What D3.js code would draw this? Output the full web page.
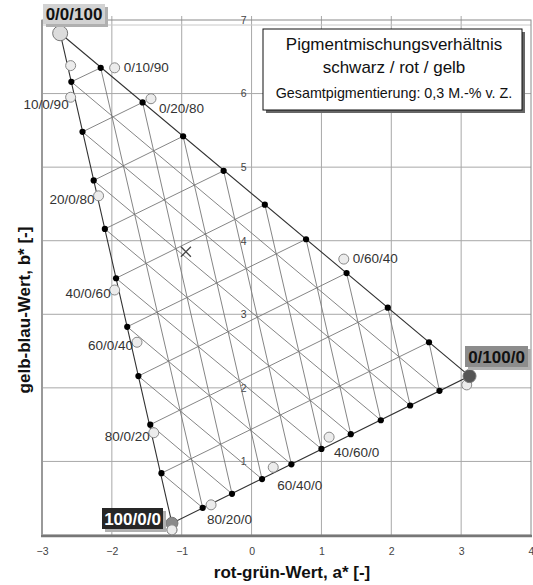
<!DOCTYPE html>
<html>
<head>
<meta charset="utf-8">
<script src="https://cdn.jsdelivr.net/npm/d3@7"></script>
<style>
  html, body { margin: 0; padding: 0; background: #fff; }
  svg { display: block; font-family: "Liberation Sans", Arial, sans-serif; }
</style>
</head>
<body>
<svg id="chart" width="533" height="585"></svg>
<script>
// Axis ranges and ticks
const xDomain = [-3, 4];
const yDomain = [0, 7];
const xTicks = [-3, -2, -1, 0, 1, 2, 3, 4];
const yTicks = [1, 2, 3, 4, 5, 6, 7];

// Pure pigment corners (a*, b*): schwarz / rot / gelb
const cornerNames = ["100/0/0", "0/100/0", "0/0/100"];
const cornerA = [-1.14, 3.12, -2.74];
const cornerB = [0.16, 2.16, 6.82];

// Calculated mixtures on the triangle edges, 10 % steps (index 1..9)
// top edge: 0/r/(100-r)
const topA = [-2.16, -1.56, -0.98, -0.40, 0.19, 0.78, 1.36, 1.95, 2.54];
const topB = [6.35, 5.88, 5.42, 4.95, 4.49, 4.02, 3.56, 3.09, 2.62];
// left edge: s/0/(100-s)
const leftA = [-2.58, -2.42, -2.26, -2.10, -1.94, -1.78, -1.62, -1.45, -1.29];
const leftB = [6.16, 5.48, 4.82, 4.16, 3.49, 2.83, 2.16, 1.50, 0.84];
// bottom edge: (100-r)/r/0
const botA = [-0.70, -0.28, 0.15, 0.57, 1.00, 1.42, 1.85, 2.27, 2.69];
const botB = [0.37, 0.56, 0.76, 0.96, 1.17, 1.37, 1.56, 1.76, 1.96];

// Measured mixtures
const measNames = ["", "0/10/90", "10/0/90", "0/20/80", "20/0/80", "40/0/60", "60/0/40",
                   "80/0/20", "100/0/0", "80/20/0", "60/40/0", "40/60/0", "0/60/40", "0/100/0"];
const measA = [-2.59, -1.96, -2.59, -1.44, -2.19, -1.96, -1.64, -1.40, -1.14, -0.58, 0.31, 1.11, 1.32, 3.08];
const measB = [6.38, 6.35, 5.95, 5.93, 4.61, 3.33, 2.62, 1.39, 0.07, 0.41, 0.92, 1.33, 3.75, 2.04];
// label side for each measured point
const measLabelPos = ["none", "right", "leftlow", "rightlow", "left", "left", "left",
                      "left", "none", "below", "belowfar", "belowright", "right", "none"];

// Single marker
const crossA = [-0.94];
const crossB = [3.85];

const legendLines = ["Pigmentmischungsverhältnis", "schwarz / rot / gelb", "Gesamtpigmentierung: 0,3 M.-% v. Z."];

const svg = d3.select("#chart");
const x = d3.scaleLinear().domain(xDomain).range([42, 531]);
const y = d3.scaleLinear().domain(yDomain).range([535, 20]);

// grid lines
const grid = svg.append("g");
grid.selectAll("line.v").data(xTicks.slice(1, -1)).join("line")
  .attr("x1", d => x(d)).attr("x2", d => x(d))
  .attr("y1", y(0)).attr("y2", y(7) - 4)
  .attr("stroke", "#a8a8a8").attr("stroke-width", 1);
grid.selectAll("line.h").data(yTicks.slice(0, -1)).join("line")
  .attr("x1", x(-3)).attr("x2", x(4))
  .attr("y1", d => y(d)).attr("y2", d => y(d))
  .attr("stroke", "#a8a8a8").attr("stroke-width", 1);

// frame
svg.append("line").attr("x1", x(-3)).attr("x2", x(4)).attr("y1", y(7) + 5).attr("y2", y(7) + 5)
  .attr("stroke", "#c8c8c8").attr("stroke-width", 1);
svg.append("rect").attr("x", x(-3)).attr("y", y(7)).attr("width", x(4) - x(-3)).attr("height", y(0) - y(7))
  .attr("fill", "none").attr("stroke", "#8a8a8a").attr("stroke-width", 1);
svg.append("line").attr("x1", x(-3) - 1).attr("x2", x(4) + 1).attr("y1", y(0) + 1).attr("y2", y(0) + 1)
  .attr("stroke", "#777").attr("stroke-width", 2.5);
svg.append("line").attr("x1", x(-3)).attr("x2", x(-3)).attr("y1", y(7)).attr("y2", y(0))
  .attr("stroke", "#999").attr("stroke-width", 2);

// x tick labels
const xAxis = svg.append("g").attr("transform", `translate(0,${y(0) + 10})`)
  .call(d3.axisBottom(x).tickValues(xTicks).tickSize(0).tickFormat(d3.format("d")));
xAxis.select(".domain").remove();
xAxis.selectAll("text").attr("font-size", 10.5).attr("fill", "#444")
  .attr("font-family", "Liberation Sans, Arial, sans-serif");

// y tick labels next to a* = 0
const yAxis = svg.append("g").attr("transform", `translate(${x(0) - 3},0)`)
  .call(d3.axisLeft(y).tickValues(yTicks).tickSize(0).tickPadding(2).tickFormat(d3.format("d")));
yAxis.select(".domain").remove();
yAxis.selectAll("text").attr("font-size", 10.5).attr("fill", "#444")
  .attr("font-family", "Liberation Sans, Arial, sans-serif");

// ternary grid: interior lines
const P = (a, b) => [x(a), y(b)];
const tern = svg.append("g");
const idx = d3.range(9);
// constant gelb: left[i] -> top[i]
tern.selectAll("line.g").data(idx).join("line")
  .attr("x1", i => x(leftA[i])).attr("y1", i => y(leftB[i]))
  .attr("x2", i => x(topA[i])).attr("y2", i => y(topB[i]))
  .attr("stroke", "#777").attr("stroke-width", 0.9);
// constant rot: top[i] -> bottom[i]
tern.selectAll("line.r").data(idx).join("line")
  .attr("x1", i => x(topA[i])).attr("y1", i => y(topB[i]))
  .attr("x2", i => x(botA[i])).attr("y2", i => y(botB[i]))
  .attr("stroke", "#777").attr("stroke-width", 0.9);
// constant schwarz: left[i] -> bottom[8-i]
tern.selectAll("line.s").data(idx).join("line")
  .attr("x1", i => x(leftA[i])).attr("y1", i => y(leftB[i]))
  .attr("x2", i => x(botA[8 - i])).attr("y2", i => y(botB[8 - i]))
  .attr("stroke", "#777").attr("stroke-width", 0.9);

// triangle outline
const outline = [2, 1, 0, 2].map(k => P(cornerA[k], cornerB[k]));
tern.append("path").attr("d", d3.line()(outline))
  .attr("fill", "none").attr("stroke", "#333").attr("stroke-width", 1.1);

// calculated edge points
const edgePts = idx.map(i => [topA[i], topB[i]])
  .concat(idx.map(i => [leftA[i], leftB[i]]))
  .concat(idx.map(i => [botA[i], botB[i]]));
tern.selectAll("circle.e").data(edgePts).join("circle")
  .attr("cx", d => x(d[0])).attr("cy", d => y(d[1])).attr("r", 3.1).attr("fill", "#000");

// measured points
const meas = svg.append("g");
const measData = measA.map((a, i) => ({ a, b: measB[i], name: measNames[i], pos: measLabelPos[i] }));
meas.selectAll("circle").data(measData).join("circle")
  .attr("cx", d => x(d.a)).attr("cy", d => y(d.b)).attr("r", 5)
  .attr("fill", "#ececec").attr("stroke", "#888").attr("stroke-width", 1);

// corner markers
const cornerFill = ["#8a8a8a", "#555", "#dcdcdc"];
const cornerR = [6, 6.5, 7.5];
svg.selectAll("circle.c").data([0, 1, 2]).join("circle")
  .attr("cx", k => x(cornerA[k])).attr("cy", k => y(cornerB[k])).attr("r", k => cornerR[k])
  .attr("fill", k => cornerFill[k]).attr("stroke", "#777").attr("stroke-width", 1);
// measured pure black sits partly over its corner marker
svg.append("circle").attr("cx", x(measA[8])).attr("cy", y(measB[8])).attr("r", 5)
  .attr("fill", "#ececec").attr("stroke", "#888");

// point labels
const off = {
  right: [9, 4, "start"], leftlow: [-2, 12, "end"], rightlow: [8, 14, "start"],
  left: [-4, 8, "end"], below: [-4, 19, "start"], belowfar: [4, 23, "start"],
  belowright: [5, 20, "start"]
};
meas.selectAll("text").data(measData.filter(d => d.pos !== "none")).join("text")
  .attr("x", d => x(d.a) + off[d.pos][0]).attr("y", d => y(d.b) + off[d.pos][1])
  .attr("text-anchor", d => off[d.pos][2])
  .attr("font-size", 13.5).attr("fill", "#333").text(d => d.name);

// cross marker
svg.selectAll("path.x").data(crossA).join("path")
  .attr("transform", (d, i) => `translate(${x(d)},${y(crossB[i])})`)
  .attr("d", "M-5,-5L5,5M-5,5L5,-5").attr("stroke", "#444").attr("stroke-width", 1.3);

// corner name boxes
const boxes = [
  { k: 2, bx: 43, by: 4, w: 62, h: 20, fill: "#d2d2d2", color: "#111" },
  { k: 1, bx: 465, by: 346, w: 63, h: 21, fill: "#8c8c8c", color: "#111" },
  { k: 0, bx: 102, by: 508, w: 61, h: 21, fill: "#262626", color: "#fff" }
];
const bg = svg.append("g").selectAll("g").data(boxes).join("g");
bg.append("rect").attr("x", d => d.bx + 3).attr("y", d => d.by + 3).attr("width", d => d.w).attr("height", d => d.h)
  .attr("fill", "#b0b0b0");
bg.append("rect").attr("x", d => d.bx).attr("y", d => d.by).attr("width", d => d.w).attr("height", d => d.h)
  .attr("fill", d => d.fill);
bg.append("text").attr("x", d => d.bx + d.w / 2).attr("y", d => d.by + d.h / 2 + 6)
  .attr("text-anchor", "middle").attr("font-size", 17).attr("font-weight", "bold")
  .attr("fill", d => d.color).text(d => cornerNames[d.k]);

// legend box
const lg = svg.append("g");
lg.append("rect").attr("x", 266).attr("y", 32).attr("width", 259).attr("height", 81).attr("fill", "#666");
lg.append("rect").attr("x", 263).attr("y", 29).attr("width", 259).attr("height", 81)
  .attr("fill", "#fff").attr("stroke", "#111").attr("stroke-width", 1);
lg.selectAll("text").data(legendLines).join("text")
  .attr("x", 394).attr("y", (d, i) => [50, 73, 98][i])
  .attr("text-anchor", "middle").attr("fill", "#111")
  .attr("font-size", (d, i) => i < 2 ? 17 : 14.3).text(d => d);

// axis titles
svg.append("text").attr("x", 292).attr("y", 578).attr("text-anchor", "middle")
  .attr("font-size", 17).attr("font-weight", "bold").attr("fill", "#111")
  .text("rot-grün-Wert, a* [-]");
svg.append("text").attr("transform", "translate(30,310) rotate(-90)").attr("text-anchor", "middle")
  .attr("font-size", 17).attr("font-weight", "bold").attr("fill", "#111")
  .text("gelb-blau-Wert, b* [-]");
</script>
</body>
</html>
